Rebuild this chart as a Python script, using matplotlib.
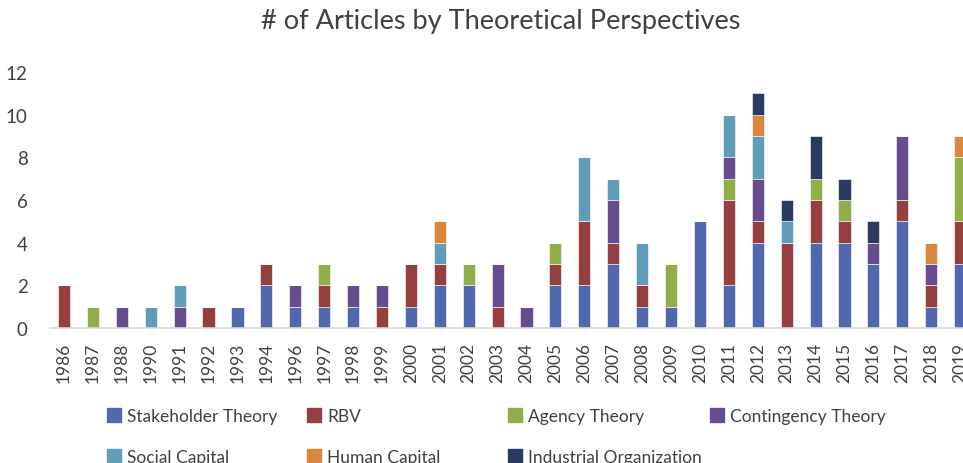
import numpy as np
import matplotlib.pyplot as plt
from matplotlib.patches import Patch

plt.rcParams['font.family'] = ['Lato', 'DejaVu Sans']

# data
years = ['1986', '1987', '1988', '1990', '1991', '1992', '1993', '1994', '1996', '1997',
         '1998', '1999', '2000', '2001', '2002', '2003', '2004', '2005', '2006', '2007',
         '2008', '2009', '2010', '2011', '2012', '2013', '2014', '2015', '2016', '2017',
         '2018', '2019']
stakeholder = [0, 0, 0, 0, 0, 0, 1, 2, 1, 1, 1, 0, 1, 2, 2, 0, 0, 2, 2, 3, 1, 1, 5, 2, 4, 0, 4, 4, 3, 5, 1, 3]
rbv         = [2, 0, 0, 0, 0, 1, 0, 1, 0, 1, 0, 1, 2, 1, 0, 1, 0, 1, 3, 1, 1, 0, 0, 4, 1, 4, 2, 1, 0, 1, 1, 2]
agency      = [0, 1, 0, 0, 0, 0, 0, 0, 0, 1, 0, 0, 0, 0, 1, 0, 0, 1, 0, 0, 0, 2, 0, 1, 0, 0, 1, 1, 0, 0, 0, 3]
contingency = [0, 0, 1, 0, 1, 0, 0, 0, 1, 0, 1, 1, 0, 0, 0, 2, 1, 0, 0, 2, 0, 0, 0, 1, 2, 0, 0, 0, 1, 3, 1, 0]
social      = [0, 0, 0, 1, 1, 0, 0, 0, 0, 0, 0, 0, 0, 1, 0, 0, 0, 0, 3, 1, 2, 0, 0, 2, 2, 1, 0, 0, 0, 0, 0, 0]
human       = [0, 0, 0, 0, 0, 0, 0, 0, 0, 0, 0, 0, 0, 1, 0, 0, 0, 0, 0, 0, 0, 0, 0, 0, 1, 0, 0, 0, 0, 0, 1, 1]
industrial  = [0, 0, 0, 0, 0, 0, 0, 0, 0, 0, 0, 0, 0, 0, 0, 0, 0, 0, 0, 0, 0, 0, 0, 0, 1, 1, 2, 1, 1, 0, 0, 0]

series = [
    ('Stakeholder Theory', stakeholder, '#5068AE'),
    ('RBV', rbv, '#954040'),
    ('Agency Theory', agency, '#91AE4A'),
    ('Contingency Theory', contingency, '#664E8E'),
    ('Social Capital', social, '#619DBB'),
    ('Human Capital', human, '#D8873D'),
    ('Industrial Organization', industrial, '#2A3A60'),
]

fig = plt.figure(figsize=(9.63, 4.64), dpi=100)
ax = fig.add_axes([50/963, 135/464, 913/963, 256/464])

x = np.arange(len(years))
bottom = np.zeros(len(years))
for name, vals, col in series:
    ax.bar(x, vals, width=0.42, bottom=bottom, color=col, edgecolor='white', linewidth=0.4, label=name)
    bottom += np.array(vals)

ax.set_xlim(-0.484, 31.1)
ax.set_ylim(0, 12)
ax.set_yticks(range(0, 13, 2))
ax.set_xticks(x)
ax.set_xticklabels(years, rotation=90)
ax.tick_params(axis='both', length=0, colors='#404040')
ax.tick_params(axis='y', labelsize=13.5, pad=16)
ax.tick_params(axis='x', labelsize=12.5, pad=10)
for s in ['top', 'right', 'left']:
    ax.spines[s].set_visible(False)
ax.spines['bottom'].set_color('#D9D9D9')
ax.spines['bottom'].set_linewidth(1.2)

fig.text(501/963, 1 - 22/464, '# of Articles by Theoretical Perspectives',
         ha='center', va='center', fontsize=19.5, color='#404040')

# legend entries placed like the excel layout
spots = [(107, 417), (307, 417), (508, 417), (710, 417), (107, 458), (307, 458), (508, 458)]
for (name, vals, col), (px, py) in zip(series, spots):
    fig.legend(handles=[Patch(color=col)], labels=[name], loc='center left',
               bbox_to_anchor=(px/963, 1 - py/464), frameon=False, borderpad=0,
               borderaxespad=0, handlelength=0.8, handleheight=0.8, handletextpad=0.35,
               fontsize=12.5, labelcolor='#404040')

fig.savefig('out.png', dpi=100)
